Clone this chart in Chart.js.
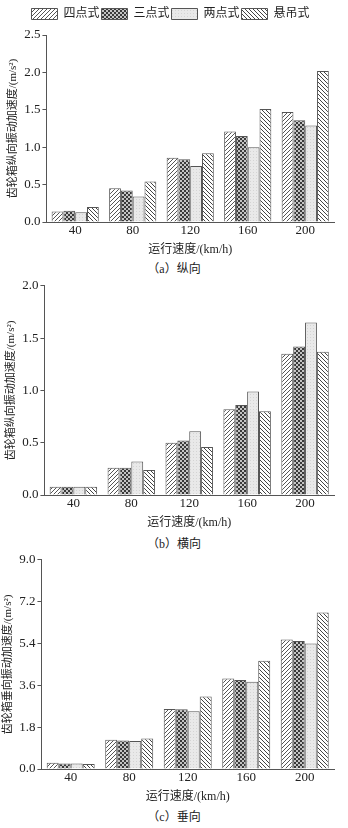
<!DOCTYPE html>
<html>
<head>
<meta charset="utf-8">
<script src="https://cdn.jsdelivr.net/npm/chart.js@4.4.0/dist/chart.umd.min.js"></script>
<style>
  html, body { margin: 0; padding: 0; background: #fff; }
  body { width: 348px; height: 828px; position: relative; overflow: hidden; }
  .box { position: absolute; left: 0; width: 348px; }
  .cap { position: absolute; left: 0; width: 348px; text-align: center;
         font: 12px 'Liberation Serif', 'Noto Sans CJK SC', serif; color: #222; }
</style>
</head>
<body>
<div class="box" style="top:0;height:257px"><canvas id="chartA"></canvas></div>
<div class="cap" style="top:259px">（a）纵向</div>
<div class="box" style="top:276px;height:254px"><canvas id="chartB"></canvas></div>
<div class="cap" style="top:534px">（b）横向</div>
<div class="box" style="top:550px;height:254px"><canvas id="chartC"></canvas></div>
<div class="cap" style="top:807px">（c）垂向</div>
<script>
const speeds = ['40', '80', '120', '160', '200'];
const seriesNames = ['四点式', '三点式', '两点式', '悬吊式'];

// 纵向
const longFour  = [0.14, 0.45, 0.86, 1.21, 1.47];
const longThree = [0.15, 0.42, 0.84, 1.15, 1.36];
const longTwo   = [0.13, 0.34, 0.75, 1.00, 1.29];
const longHang  = [0.20, 0.54, 0.92, 1.51, 2.02];
const longTicks = [0, 0.5, 1.0, 1.5, 2.0, 2.5];

// 横向
const latFour  = [0.08, 0.26, 0.50, 0.82, 1.35];
const latThree = [0.08, 0.26, 0.52, 0.86, 1.42];
const latTwo   = [0.08, 0.32, 0.61, 0.99, 1.65];
const latHang  = [0.08, 0.24, 0.46, 0.80, 1.37];
const latTicks = [0, 0.5, 1.0, 1.5, 2.0];

// 垂向
const vertFour  = [0.27, 1.26, 2.58, 3.89, 5.57];
const vertThree = [0.24, 1.23, 2.57, 3.83, 5.51];
const vertTwo   = [0.24, 1.20, 2.48, 3.75, 5.40];
const vertHang  = [0.22, 1.31, 3.12, 4.66, 6.73];
const vertTicks = [0, 1.8, 3.6, 5.4, 7.2, 9.0];

const serif = "'Liberation Serif', 'Noto Sans CJK SC', serif";
const ink = '#222';
const edge = '#555';

function tile(size, paint) {
  const c = document.createElement('canvas');
  c.width = c.height = size;
  const g = c.getContext('2d');
  paint(g);
  return g.createPattern(c, 'repeat');
}

// "/" hatching
const slashFill = tile(4, g => {
  g.fillStyle = '#fff'; g.fillRect(0, 0, 4, 4);
  g.strokeStyle = '#555'; g.lineWidth = 1;
  g.beginPath();
  g.moveTo(-1, 5); g.lineTo(5, -1);
  g.moveTo(-1, 1); g.lineTo(1, -1);
  g.moveTo(3, 5); g.lineTo(5, 3);
  g.stroke();
});

// grey checker
const checkFill = tile(4, g => {
  g.fillStyle = '#3a3a3a'; g.fillRect(0, 0, 4, 4);
  g.fillStyle = '#c4c4c4';
  g.fillRect(0, 0, 2, 2); g.fillRect(2, 2, 2, 2);
});

// light dotted grey
const dotFill = tile(3, g => {
  g.fillStyle = '#e9e9e9'; g.fillRect(0, 0, 3, 3);
  g.fillStyle = '#d4d4d4'; g.fillRect(1, 1, 1, 1);
});

// "\" hatching
const backFill = tile(4, g => {
  g.fillStyle = '#fff'; g.fillRect(0, 0, 4, 4);
  g.strokeStyle = '#444'; g.lineWidth = 1;
  g.beginPath();
  g.moveTo(-1, -1); g.lineTo(5, 5);
  g.moveTo(3, -1); g.lineTo(5, 1);
  g.moveTo(-1, 3); g.lineTo(1, 5);
  g.stroke();
});

const fills = [slashFill, checkFill, dotFill, backFill];

// leave a gap between the legend and the plot
const legendGap = {
  id: 'legendGap',
  beforeInit(chart) {
    const fit = chart.legend.fit;
    chart.legend.fit = function () {
      fit.bind(chart.legend)();
      this.height += 5;
    };
  }
};

function makeChart(id, series, ticks, yTitle, showLegend, leftPad, topPad) {
  new Chart(document.getElementById(id), {
    type: 'bar',
    data: {
      labels: speeds,
      datasets: series.map((vals, i) => ({
        label: seriesNames[i],
        data: vals,
        backgroundColor: fills[i],
        borderColor: edge,
        borderWidth: 1,
        barPercentage: 1.0,
        categoryPercentage: 0.82
      }))
    },
    plugins: showLegend ? [legendGap] : [],
    options: {
      responsive: true,
      maintainAspectRatio: false,
      animation: false,
      layout: { padding: { left: leftPad, right: 14, top: topPad } },
      plugins: {
        legend: {
          display: showLegend,
          position: 'top',
          labels: {
            boxWidth: 26, boxHeight: 11, padding: 2,
            color: ink, font: { family: serif, size: 12 }
          }
        },
        tooltip: { enabled: false }
      },
      scales: {
        x: {
          grid: { display: false, drawTicks: false, tickLength: 0 },
          border: { display: true, color: edge, width: 1 },
          ticks: { color: ink, font: { family: serif, size: 13 }, padding: 1 },
          title: {
            display: true, text: '运行速度/(km/h)', color: ink,
            font: { family: serif, size: 12 }, padding: { top: 3, bottom: 0 }
          }
        },
        y: {
          min: ticks[0],
          max: ticks[ticks.length - 1],
          afterBuildTicks: axis => { axis.ticks = ticks.map(v => ({ value: v })); },
          grid: { drawOnChartArea: false, drawTicks: true, tickLength: 4, color: edge },
          border: { display: true, color: edge, width: 1 },
          ticks: {
            color: ink, font: { family: serif, size: 13 }, padding: 2,
            callback: v => Number(v).toFixed(1)
          },
          title: {
            display: true, text: yTitle, color: ink,
            font: { family: serif, size: 11 }, padding: { top: 0, bottom: 2 }
          }
        }
      }
    }
  });
}

makeChart('chartA', [longFour, longThree, longTwo, longHang], longTicks,
  '齿轮箱纵向振动加速度/(m/s²)', true, 7, 6);
makeChart('chartB', [latFour, latThree, latTwo, latHang], latTicks,
  '齿轮箱纵向振动加速度/(m/s²)', false, 5, 5);
makeChart('chartC', [vertFour, vertThree, vertTwo, vertHang], vertTicks,
  '齿轮箱垂向振动加速度/(m/s²)', false, 2, 9);
</script>
</body>
</html>
